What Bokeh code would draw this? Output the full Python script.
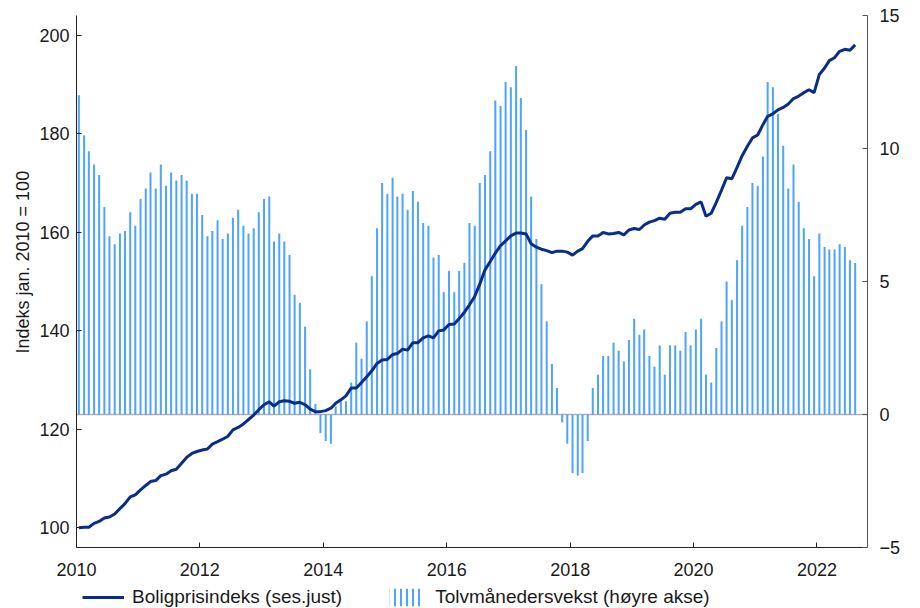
import numpy as np
import pandas as pd
from bokeh.plotting import figure
from bokeh.layouts import column
from bokeh.models import (Range1d, LinearAxis, FixedTicker, DatetimeTickFormatter, Span,
                          Legend, LegendItem, Label, Title, ColumnDataSource)
from bokeh.embed import file_html
from bokeh.resources import INLINE

# ---------------- data ----------------
start_month = "2010-01"

# Twelve-month growth (percent, right axis), Jan 2010 - Aug 2022
growth_pct = [
    12.0, 10.5, 9.9, 9.4, 9.0, 7.8, 6.7, 6.4, 6.8, 6.9, 7.6, 7.1,      # 2010
    8.1, 8.5, 9.1, 8.5, 9.4, 8.6, 9.1, 8.8, 9.0, 8.8, 8.3, 8.3,        # 2011
    7.5, 6.7, 6.9, 7.3, 6.6, 6.8, 7.4, 7.7, 7.1, 6.8, 7.0, 7.6,        # 2012
    8.1, 8.2, 6.5, 6.8, 6.5, 6.0, 4.5, 4.2, 3.3, 1.7, 0.4, -0.7,       # 2013
    -1.0, -1.1, 0.3, 0.5, 0.5, 1.2, 2.7, 2.1, 3.5, 5.2, 7.0, 8.7,      # 2014
    8.3, 8.9, 8.2, 8.3, 7.7, 8.4, 8.0, 7.2, 7.1, 5.9, 6.0, 4.6,        # 2015
    5.4, 4.6, 5.4, 5.7, 7.2, 7.1, 8.7, 9.0, 9.9, 11.8, 11.6, 12.5,     # 2016
    12.3, 13.1, 11.9, 10.7, 8.2, 6.6, 4.9, 3.5, 1.9, 1.0, -0.3, -1.1,  # 2017
    -2.2, -2.3, -2.2, -1.0, 1.0, 1.5, 2.2, 2.2, 2.7, 2.4, 2.0, 2.8,    # 2018
    3.6, 3.0, 3.2, 2.2, 1.8, 2.6, 1.5, 2.6, 2.6, 2.4, 3.1, 2.6,        # 2019
    3.2, 3.6, 1.5, 1.2, 2.5, 3.5, 5.0, 4.3, 5.8, 7.1, 7.8, 8.7,        # 2020
    8.6, 9.7, 12.5, 12.3, 11.3, 10.1, 8.5, 9.4, 8.0, 7.0, 6.6, 5.2,    # 2021
    6.8, 6.3, 6.2, 6.2, 6.4, 6.3, 5.8, 5.7,                            # 2022
]

# House price index, seasonally adjusted (Jan 2010 = 100, left axis)
price_index = [
    100.0, 100.1, 100.1, 100.9, 101.3, 102.0, 102.2, 102.8, 103.9, 104.9, 106.3, 106.7,
    107.7, 108.6, 109.4, 109.6, 110.6, 110.9, 111.6, 111.9, 113.1, 114.3, 115.1, 115.5,
    115.8, 116.0, 117.0, 117.5, 118.0, 118.6, 119.9, 120.4, 121.1, 122.0, 122.9, 124.0,
    125.0, 125.6, 124.7, 125.6, 125.8, 125.7, 125.3, 125.5, 125.0, 124.1, 123.6, 123.6,
    123.8, 124.3, 125.3, 126.0, 126.8, 128.4, 128.4, 129.5, 130.7, 131.9, 133.4, 134.1,
    134.2, 135.2, 135.4, 136.3, 136.1, 137.6, 137.6, 138.6, 139.0, 138.6, 140.0, 140.2,
    141.3, 141.4, 142.5, 143.8, 145.3, 147.0, 149.5, 152.4, 154.1, 155.8, 157.3, 158.3,
    159.3, 159.9, 159.9, 159.7, 157.7, 157.0, 156.6, 156.3, 155.9, 156.2, 156.2, 156.0,
    155.4, 156.2, 156.7, 158.2, 159.3, 159.3, 160.0, 159.7, 159.8, 160.0, 159.5, 160.5,
    160.8, 160.6, 161.5, 162.1, 162.4, 162.9, 162.7, 163.9, 164.1, 164.1, 164.8, 164.8,
    165.7, 166.2, 163.3, 163.9, 166.1, 168.6, 171.1, 170.9, 173.2, 175.6, 177.5, 179.2,
    179.8, 181.9, 183.6, 184.1, 184.9, 185.4, 186.1, 187.2, 187.7, 188.4, 189.0, 188.4,
    192.1, 193.4, 194.9, 195.5, 196.8, 197.2, 197.0, 198.1,
]

left_ticks = [100, 120, 140, 160, 180, 200]
right_ticks = [-5, 0, 5, 10, 15]
year_ticks = [2010, 2012, 2014, 2016, 2018, 2020, 2022]

line_label = "Boligprisindeks (ses.just)"
bar_label = "Tolvmånedersvekst (høyre akse)"
left_title = "Indeks jan. 2010 = 100"
right_title = "Prosent"

# ---------------- styling ----------------
FONT = "Liberation Sans"
LINE_COLOR = "#0a2c8a"
BAR_COLOR = "#50a4fd"
TEXT_COLOR = "#1a1a1a"

months = pd.date_range(start_month, periods=len(price_index), freq="MS") + pd.Timedelta(days=14)
src = ColumnDataSource(dict(month=months, growth=growth_pct, index=price_index))
x_range = Range1d(pd.Timestamp("2010-01-01"), pd.Timestamp("2022-10-27"))
day_ms = 86400000

p = figure(width=920, height=585, x_axis_type="datetime",
           output_backend="svg", toolbar_location=None,
           x_range=x_range, y_range=Range1d(96, 204.07),
           min_border_left=76, min_border_right=53, min_border_top=15, min_border_bottom=38)
p.extra_y_ranges = {"pct": Range1d(-5, 15)}

p.xgrid.visible = False
p.ygrid.visible = False
p.outline_line_color = None
p.background_fill_color = "white"
p.border_fill_color = "white"

bars = p.vbar(x="month", top="growth", bottom=0, width=12 * day_ms, source=src,
              y_range_name="pct", fill_color=BAR_COLOR, line_color=None)

zero = Span(location=0, dimension="width", y_range_name="pct",
            line_color="#b0b0b0", line_width=1.5, level="underlay")
p.add_layout(zero)

line_r = p.line(x="month", y="index", source=src, line_color=LINE_COLOR, line_width=3)

# axes
right_axis = LinearAxis(y_range_name="pct", ticker=FixedTicker(ticks=right_ticks))
p.add_layout(right_axis, "right")

p.yaxis[0].ticker = FixedTicker(ticks=left_ticks)
year_ms = [pd.Timestamp(f"{y}-01-01").value // 10**6 for y in year_ticks]
p.xaxis[0].ticker = FixedTicker(ticks=year_ms)
p.xaxis[0].formatter = DatetimeTickFormatter(years="%Y", months="%Y", days="%Y",
                                             hours="%Y", minutes="%Y", seconds="%Y",
                                             milliseconds="%Y", microseconds="%Y",
                                             context=None)

for ax in [p.xaxis[0], p.yaxis[0], right_axis]:
    ax.major_tick_in = 5
    ax.major_tick_out = 0
    ax.minor_tick_in = 0
    ax.minor_tick_out = 0
    ax.axis_line_color = "#222222"
    ax.major_tick_line_color = "#222222"
    ax.major_label_text_font = FONT
    ax.major_label_text_font_size = "18px"
    ax.major_label_text_color = TEXT_COLOR

right_axis.axis_line_color = "#555555"
right_axis.major_tick_line_color = "#555555"
p.yaxis[0].major_label_standoff = 7
right_axis.major_label_standoff = 12
p.xaxis[0].major_label_standoff = 15

# left axis title (side title anchored from the frame bottom) and right axis title
p.add_layout(Title(text=left_title, align="left", offset=194, standoff=8,
                   text_font=FONT, text_font_size="18px", text_font_style="normal",
                   text_color=TEXT_COLOR), "left")
p.add_layout(Label(x=832, y=257, x_units="screen", y_units="screen", text=right_title,
                   angle=-np.pi / 2, text_align="center", text_baseline="middle",
                   text_font=FONT, text_font_size="18px", text_color=TEXT_COLOR))

# ---------------- legend strip (separate figure below) ----------------
leg = figure(width=920, height=23, output_backend="svg", toolbar_location=None,
             x_range=x_range, y_range=Range1d(0, 1),
             x_axis_location=None, y_axis_location=None, min_border=0)
leg.xgrid.visible = False
leg.ygrid.visible = False
leg.outline_line_color = None
leg.background_fill_color = "white"
leg.border_fill_color = "white"

# same series, but outside this strip's visible range: only their legend icons show
leg_line = leg.line(x="month", y="index", source=src, line_color=LINE_COLOR, line_width=3)
leg_bars = leg.vbar(x="month", top=0, bottom=0, width=12 * day_ms, source=src,
                    fill_alpha=0, line_alpha=0,
                    hatch_pattern="|", hatch_color=BAR_COLOR, hatch_weight=2, hatch_scale=6)

legend = Legend(items=[LegendItem(label=line_label, renderers=[leg_line]),
                       LegendItem(label=bar_label, renderers=[leg_bars])],
                location=(6, 0), orientation="horizontal",
                border_line_color=None, background_fill_alpha=0,
                padding=0, margin=0, spacing=43, label_standoff=8,
                glyph_width=42, glyph_height=22, label_height=22,
                label_text_font=FONT, label_text_font_size="19px",
                label_text_color=TEXT_COLOR)
leg.add_layout(legend)

layout = column(p, leg, spacing=0)
open("out.html", "w").write(file_html(layout, INLINE))
